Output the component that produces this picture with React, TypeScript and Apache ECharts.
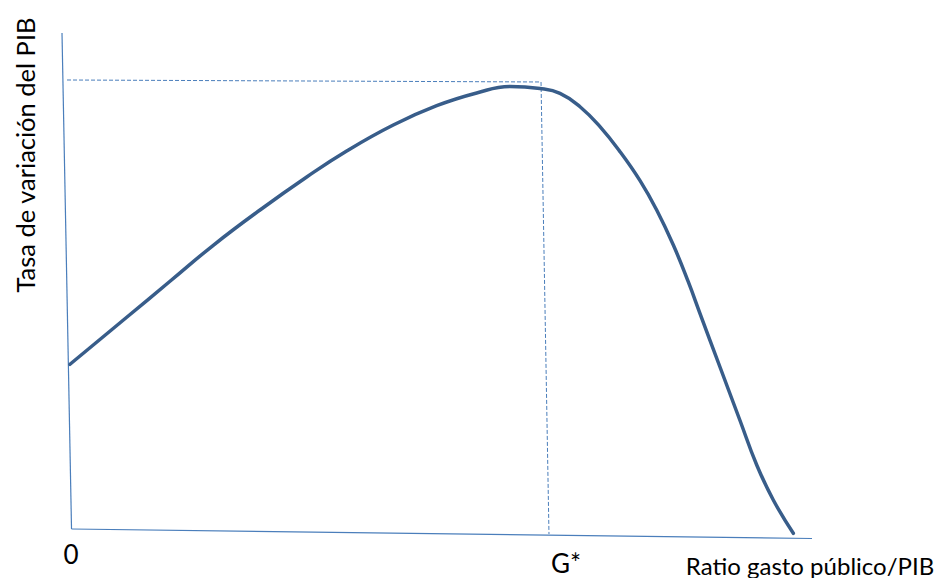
import React, { useEffect, useRef } from "react";
import * as echarts from "echarts";

// Curve: growth rate of GDP vs public spending ratio (conceptual units, 0..100)
const curveX = [1.07, 8.63, 14.4, 20.17, 26.4, 32.63, 37.96, 44.17, 49.96, 55.29, 59.73, 63.73, 66.4, 69.07, 71.73, 74.4, 77.07, 79.29, 81.51, 83.51, 85.07, 87.73, 90.4, 92.63, 94.84, 97.51];
const curveY = [34.66, 43.93, 51.03, 58.13, 65.09, 71.6, 76.73, 81.85, 85.66, 88.17, 89.45, 89.05, 88.11, 85.46, 81.52, 76.59, 70.87, 65.09, 58.18, 50.89, 44.67, 34.12, 23.57, 14.79, 7.89, 1.32];

// Hand-drawn axes (slightly tilted)
const yAxisLineX = [0, 1.27];
const yAxisLineY = [100, 2.17];
const xAxisLineX = [1.27, 100];
const xAxisLineY = [2.17, 0.3];

// Guide lines to the maximum (G*)
const hGuideX = [0.67, 63.87];
const hGuideY = [90.73, 90.34];
const vGuideX = [63.87, 64.93];
const vGuideY = [90.34, 1.18];

const xLabelZero = "0";
const xLabelG = "G*";
const xTitle = "Ratio gasto público/PIB";
const yTitle = "Tasa de variación del PIB";

const zip = (xs: number[], ys: number[]) => xs.map((x, i) => [x, ys[i]]);

export default function App() {
  const ref = useRef<HTMLDivElement>(null);
  useEffect(() => {
    if (!ref.current) return;
    const chart = echarts.init(ref.current, undefined, { renderer: "svg" });
    const font = "Lato, 'Open Sans', sans-serif";
    const axisColor = "#4A7EBB";
    chart.setOption({
      animation: false,
      backgroundColor: "#ffffff",
      grid: { left: 62, right: 130, top: 33, bottom: 38 },
      xAxis: { type: "value", min: 0, max: 100, show: false },
      yAxis: { type: "value", min: 0, max: 100, show: false },
      series: [
        {
          type: "line",
          data: zip(yAxisLineX, yAxisLineY),
          symbol: "none",
          lineStyle: { color: axisColor, width: 1.2 },
          silent: true,
        },
        {
          type: "line",
          data: zip(xAxisLineX, xAxisLineY),
          symbol: "none",
          lineStyle: { color: axisColor, width: 1.2 },
          silent: true,
        },
        {
          type: "line",
          data: zip(hGuideX, hGuideY),
          symbol: "none",
          lineStyle: { color: axisColor, width: 1, type: [4, 2] },
          silent: true,
        },
        {
          type: "line",
          data: zip(vGuideX, vGuideY),
          symbol: "none",
          lineStyle: { color: axisColor, width: 1, type: [4, 2] },
          silent: true,
        },
        {
          type: "line",
          data: zip(curveX, curveY),
          smooth: 0.45,
          symbol: "none",
          lineStyle: { color: "#385D8A", width: 3.5, cap: "round" },
          silent: true,
        },
      ],
      graphic: [
        {
          type: "text",
          x: 71,
          y: 554,
          style: { text: xLabelZero, font: `26px ${font}`, fill: "#000", align: "center", verticalAlign: "middle" },
        },
        {
          type: "text",
          x: 566,
          y: 563,
          style: { text: xLabelG, font: `26px ${font}`, fill: "#000", align: "center", verticalAlign: "middle" },
        },
        {
          type: "text",
          x: 810,
          y: 565,
          style: { text: xTitle, font: `24px ${font}`, fill: "#000", align: "center", verticalAlign: "middle" },
        },
        {
          type: "text",
          x: 25,
          y: 155,
          rotation: Math.PI / 2,
          style: { text: yTitle, font: `25.5px ${font}`, fill: "#000", align: "center", verticalAlign: "middle" },
        },
      ],
    });
    return () => chart.dispose();
  }, []);
  return (
    <div
      ref={ref}
      style={{ position: "fixed", left: 0, top: 0, width: 942, height: 578 }}
    />
  );
}
